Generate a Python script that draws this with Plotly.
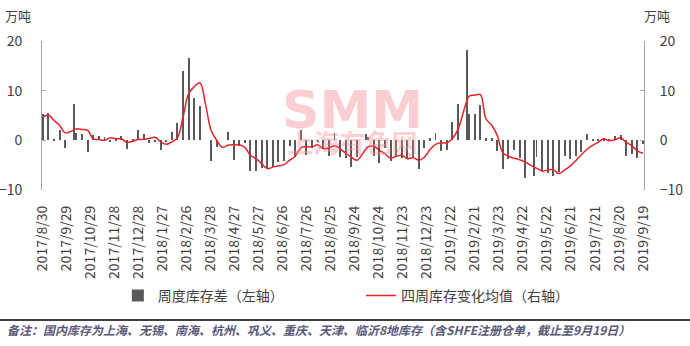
import plotly.graph_objects as go

# ---- data ----
dates = [
    "2017-08-31", "2017-09-07", "2017-09-14", "2017-09-21", "2017-09-28", "2017-10-09", "2017-10-12",
    "2017-10-19", "2017-10-26", "2017-11-02", "2017-11-09", "2017-11-16", "2017-11-23", "2017-11-30",
    "2017-12-07", "2017-12-14", "2017-12-21", "2017-12-28", "2018-01-04", "2018-01-11", "2018-01-18",
    "2018-01-25", "2018-02-01", "2018-02-08", "2018-02-15", "2018-02-22", "2018-03-01", "2018-03-08",
    "2018-03-15", "2018-03-22", "2018-03-29", "2018-04-05", "2018-04-12", "2018-04-19", "2018-04-26",
    "2018-05-03", "2018-05-10", "2018-05-17", "2018-05-24", "2018-05-31", "2018-06-07", "2018-06-14",
    "2018-06-21", "2018-06-28", "2018-07-05", "2018-07-12", "2018-07-19", "2018-07-26", "2018-08-02",
    "2018-08-09", "2018-08-16", "2018-08-23", "2018-08-30", "2018-09-06", "2018-09-13", "2018-09-20",
    "2018-09-27", "2018-10-08", "2018-10-11", "2018-10-18", "2018-10-25", "2018-11-01", "2018-11-08",
    "2018-11-15", "2018-11-22", "2018-11-29", "2018-12-06", "2018-12-13", "2018-12-20", "2018-12-27",
    "2019-01-03", "2019-01-10", "2019-01-17", "2019-01-24", "2019-01-31", "2019-02-11", "2019-02-14",
    "2019-02-21", "2019-02-28", "2019-03-07", "2019-03-14", "2019-03-21", "2019-03-28", "2019-04-04",
    "2019-04-11", "2019-04-18", "2019-04-25", "2019-05-06", "2019-05-09", "2019-05-16", "2019-05-23",
    "2019-05-30", "2019-06-06", "2019-06-13", "2019-06-20", "2019-06-27", "2019-07-04", "2019-07-11",
    "2019-07-18", "2019-07-25", "2019-08-01", "2019-08-08", "2019-08-15", "2019-08-22", "2019-08-29",
    "2019-09-05", "2019-09-12", "2019-09-19",
]

weekly_change = [
    5.3, 5.5, 0.1, 2.0, -1.5, 7.3, 1.5,
    1.2, -2.4, 1.1, 0.8, 0.7, -0.3, 0.4,
    0.8, -1.7, 0.2, 2.0, 1.2, -0.5, -0.4,
    -2.0, -0.3, 1.6, 3.5, 14.0, 16.6, 8.5,
    6.9, 0.0, -4.2, -1.3, 0.0, 1.6, -3.9,
    -1.2, -0.5, -6.1, -6.2, -5.6, -5.6, -5.3,
    -4.4, -4.1, -1.2, -3.4, 2.0, -3.0, -1.5,
    -0.3, -1.7, -3.2, 1.4, -3.4, -3.5, -5.3,
    -3.4, 1.2, 0.7, -3.2, -4.6, -1.5, -4.2,
    -3.3, -3.6, -3.8, -3.4, -5.8, -1.6, 0.4,
    1.4, -2.2, -1.9, 3.6, 7.3, 18.2, 5.3,
    5.3, 7.1, 0.4, 0.4, -2.2, -5.8, -3.8,
    -2.0, -3.6, -7.6, -7.2, -3.4, -6.2, -6.6,
    -7.2, -6.4, -3.2, -3.8, -3.2, -2.4, 1.2,
    0.1, 0.1, 0.4, 0.1, 0.8, 1.0, -3.2,
    -2.8, -3.6, -0.8,
]

four_week_avg = [
    4.7, 5.1, 4.0, 3.0, 1.5, 2.1, 2.3,
    2.2, 2.0, 0.3, 0.15, 0.0, 0.5, 0.3,
    0.3, -0.4, -0.2, 0.15, 0.2, 0.4, 0.6,
    -0.3, -0.8, -0.3, 0.5, 4.7, 9.4, 10.8,
    11.6, 7.3, 2.0, 0.0, -1.4, -1.0, -0.9,
    -0.9, -1.4, -3.0, -3.7, -4.7, -5.7, -5.4,
    -5.1, -4.9, -4.0, -3.2, -1.5, -1.3, -1.3,
    -0.9, -1.7, -1.5, -1.1, -1.7, -2.6, -3.4,
    -4.0, -1.8, -1.3, -1.2, -2.0, -2.7, -3.6,
    -3.2, -3.0, -3.7, -3.5, -4.0, -3.4, -1.9,
    -0.8, -0.5, -0.5, 0.3, 2.2, 7.9, 8.9,
    9.1, 9.2, 4.3, 3.1, 1.0, -2.5, -3.2,
    -3.6, -3.9, -4.4, -5.4, -5.6, -6.2, -6.0,
    -5.9, -6.7, -6.0, -5.2, -4.1, -2.9, -1.8,
    -1.0, -0.4, 0.3, -0.1, 0.1, 0.5, -0.4,
    -1.1, -2.1, -2.6,
]

tick_dates = [
    "2017-08-30", "2017-09-29", "2017-10-29", "2017-11-28", "2017-12-28", "2018-01-27", "2018-02-26",
    "2018-03-28", "2018-04-27", "2018-05-27", "2018-06-26", "2018-07-26", "2018-08-25", "2018-09-24",
    "2018-10-24", "2018-11-23", "2018-12-23", "2019-01-22", "2019-02-21", "2019-03-23", "2019-04-22",
    "2019-05-22", "2019-06-21", "2019-07-21", "2019-08-20", "2019-09-19",
]
tick_labels = [
    "2017/8/30", "2017/9/29", "2017/10/29", "2017/11/28", "2017/12/28", "2018/1/27", "2018/2/26",
    "2018/3/28", "2018/4/27", "2018/5/27", "2018/6/26", "2018/7/26", "2018/8/25", "2018/9/24",
    "2018/10/24", "2018/11/23", "2018/12/23", "2019/1/22", "2019/2/21", "2019/3/23", "2019/4/22",
    "2019/5/22", "2019/6/21", "2019/7/21", "2019/8/20", "2019/9/19",
]

bar_name = "周度库存差（左轴）"
line_name = "四周库存变化均值（右轴）"
unit_label = "万吨"
note_text = "备注：国内库存为上海、无锡、南海、杭州、巩义、重庆、天津、临沂8地库存（含SHFE注册仓单，截止至9月19日）"

# ---- figure ----
FONT = "Noto Sans CJK SC"
TXT = "#404040"
AX = "#a6a6a6"
DAY_MS = 86400000

fig = go.Figure()
fig.add_trace(go.Bar(
    x=dates, y=weekly_change, name=bar_name,
    marker=dict(color="#595959", line=dict(width=0)),
    width=1.2 * DAY_MS, xaxis="x", yaxis="y", legend="legend",
))
fig.add_trace(go.Scatter(
    x=dates, y=four_week_avg, name=line_name, mode="lines",
    line=dict(color="#e3242b", width=1.5, shape="spline", smoothing=1.0),
    xaxis="x", yaxis="y2", legend="legend2",
))

x_range = ["2017-08-30", "2019-09-20 04:00"]
y_range = [-10, 20]

fig.update_layout(
    width=690, height=346,
    margin=dict(l=42, r=46, t=41, b=156, autoexpand=False),
    paper_bgcolor="white", plot_bgcolor="white",
    font=dict(family=FONT, color=TXT),
    bargap=0,
    xaxis=dict(
        type="date", range=x_range, tickmode="array", tickvals=tick_dates, ticktext=tick_labels,
        tickangle=-90, showline=False, showgrid=False, zeroline=False, ticks="", automargin=False,
        tickfont=dict(size=14, color=TXT, family=FONT), ticklabelstandoff=12,
    ),
    xaxis2=dict(
        type="date", range=x_range, overlaying="x", anchor="free", position=1 / 3, side="top",
        showline=True, linecolor=AX, linewidth=1, ticks="outside", ticklen=3, tickcolor=AX,
        tickmode="array", tickvals=tick_dates, showticklabels=False, showgrid=False, zeroline=False,
        automargin=False,
    ),
    yaxis=dict(
        range=y_range, tickmode="linear", tick0=0, dtick=10, showline=True, linecolor=AX,
        ticks="inside", ticklen=4, tickcolor=AX, showgrid=False, zeroline=False, automargin=False,
        tickfont=dict(size=14, color=TXT, family=FONT), ticklabelstandoff=16,
    ),
    yaxis2=dict(
        range=y_range, overlaying="y", side="right", tickmode="linear", tick0=0, dtick=10,
        showline=True, linecolor=AX, ticks="inside", ticklen=4, tickcolor=AX,
        showgrid=False, zeroline=False, automargin=False,
        tickfont=dict(size=14, color=TXT, family=FONT), ticklabelstandoff=12,
    ),
    legend=dict(
        x=0.126, y=-0.71, xanchor="left", yanchor="middle", orientation="h",
        bgcolor="rgba(0,0,0,0)", font=dict(size=14, color=TXT, family=FONT),
    ),
    legend2=dict(
        x=0.53, y=-0.71, xanchor="left", yanchor="middle", orientation="h",
        bgcolor="rgba(0,0,0,0)", font=dict(size=14, color=TXT, family=FONT),
    ),
    showlegend=True,
)

# watermark (single text block: logo + name)
WM = "rgba(245,140,145,0.42)"
fig.add_annotation(
    text=("<b><span style='font-size:52px;font-family:DejaVu Sans'>SMM</span><br>"
          "<span style='font-size:26px'>上海有色网</span></b>"),
    xref="paper", yref="paper", x=0.515, y=0.47, xanchor="center", yanchor="middle",
    showarrow=False, font=dict(size=19, color=WM, family=FONT),
)

# unit labels
fig.add_annotation(text=unit_label, xref="paper", yref="paper", x=-0.04, y=1.168,
                   xanchor="center", yanchor="middle",
                   showarrow=False, font=dict(size=13, color=TXT, family=FONT))
fig.add_annotation(text=unit_label, xref="paper", yref="paper", x=1.021, y=1.168,
                   xanchor="center", yanchor="middle",
                   showarrow=False, font=dict(size=13, color=TXT, family=FONT))

# footnote
fig.add_shape(type="line", xref="paper", yref="paper", x0=-0.07, x1=1.08, y0=-0.872, y1=-0.872,
              line=dict(color="black", width=1.5))
fig.add_annotation(text="<b><i>" + note_text + "</i></b>", xref="paper", yref="paper",
                   x=-0.062, y=-0.933, xanchor="left", yanchor="middle", showarrow=False,
                   font=dict(size=12, color="#5a5a78", family=FONT))

fig.write_html("out.html")
